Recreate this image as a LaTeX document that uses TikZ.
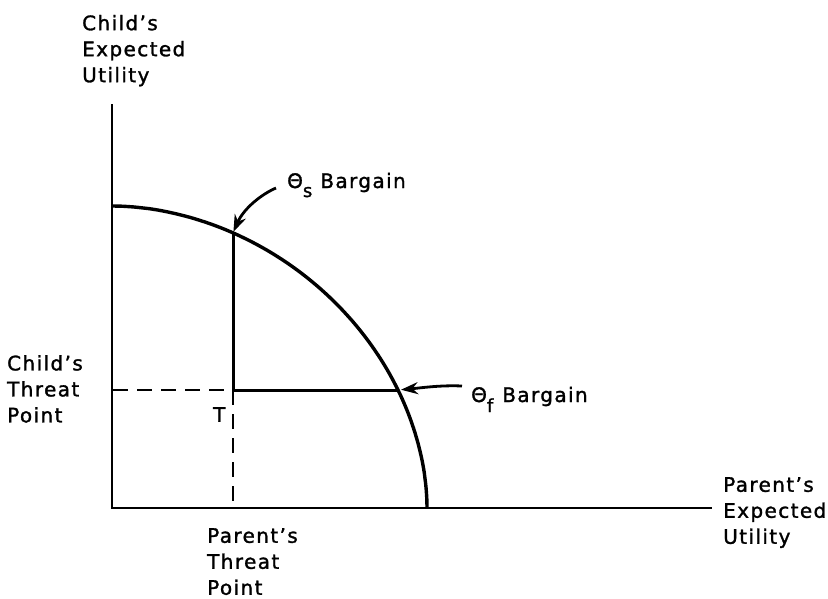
\documentclass[tikz,border=0pt]{standalone}
\usepackage{fontspec}
\setmainfont{DejaVu Sans}[LetterSpace=7, BoldFont={DejaVu Sans}, BoldFeatures={FakeBold=1.4}]
\usetikzlibrary{arrows.meta}
\begin{document}
\begin{tikzpicture}[x=1pt,y=-1pt,
  lab/.style={anchor=north west, align=left, inner sep=0pt, font=\fontsize{20}{26}\selectfont\bfseries},
  blab/.style={anchor=base west, inner sep=0pt, font=\fontsize{20}{26}\selectfont\bfseries},
  axis/.style={line width=2.6pt},
  frontier/.style={line width=3.4pt},
  threat/.style={line width=3pt},
  dashline/.style={line width=2.4pt, dash pattern=on 15pt off 9pt},
  ptr/.style={line width=2.8pt, -{Stealth[length=17pt,width=12pt]}}]
\useasboundingbox (0,0) rectangle (828,598);
% key points
\coordinate (O) at (112,508);
\coordinate (ytop) at (112,104);
\coordinate (xend) at (712,508);
\coordinate (T) at (233,390);
\coordinate (S) at (233,232.8);
\coordinate (F) at (398,390);
\coordinate (cy) at (113,390);
\coordinate (px) at (233,507);
\coordinate (fx) at (427,508);
\coordinate (fy) at (112,206);
% axes
\draw[axis] (ytop) -- (O) -- (xend);
% frontier
\draw[frontier] (fx) -- plot[domain=0.3:89.7, samples=90, variable=\t]
  ({112+315*(cos(\t))^(1.0526)}, {508-302*(sin(\t))^(1.0526)}) -- (fy);
% threat lines
\draw[threat] (S) -- (T) -- (F);
\draw[dashline] (cy) -- (T);
\draw[dashline] (T) -- (px);
\node[lab] (tlab) at (213,407) {T};
% axis labels
\node[lab] (cyl) at (82,14.8) {Child's\\Expected\\Utility};
\node[lab] (ctp) at (7,355) {Child's\\Threat\\Point};
\node[lab] (ptp) at (207,528) {Parent's\\Threat\\Point};
\node[lab] (pxl) at (723,477) {Parent's\\Expected\\Utility};
% bargains
\node[blab] (ths) at (287,188) {Θ\raisebox{-9pt}{\fontsize{18}{18}\selectfont s}\hspace{8pt}Bargain};
\node[blab] (thf) at (471,402) {Θ\raisebox{-10pt}{\fontsize{18}{18}\selectfont f}\hspace{9pt}Bargain};
\coordinate (sA) at (276,188);
\coordinate (fA) at (462,386);
\draw[ptr, shorten >=1pt] (sA) .. controls (262,194) and (244,208) .. (S);
\draw[ptr, shorten >=3pt] (fA) .. controls (440,385) and (420,388) .. (F);
\end{tikzpicture}
\end{document}
